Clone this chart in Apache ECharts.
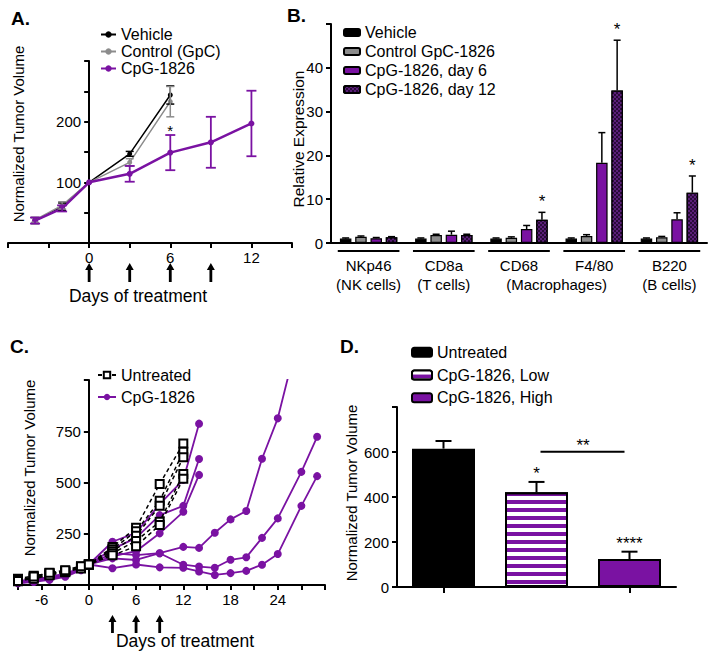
<!DOCTYPE html>
<html><head><meta charset="utf-8">
<script src="https://cdn.jsdelivr.net/npm/echarts@6/dist/echarts.min.js"></script>
<style>html,body{margin:0;padding:0;background:#fff}#c{width:714px;height:661px}</style>
</head><body><div id="c"></div>
<script>
// ---------------- DATA ----------------
// Panel A
const daysA = [-4, -2, 0, 3, 6, 9, 12];
const vehicleA = [37, 60, 100, 147, 244];
const vehicleErrA = [5, 6, 0, 4, 15];
const controlA = [38, 62, 100, 133, 233];
const controlErrA = [4, 6, 0, 6, 25];
const cpgA = [37, 57, 100, 114, 149, 166, 197];
const cpgErrA = [5, 5, 0, 13, 29, 42, 54];
const treatDaysA = [0, 3, 6, 9];
const sigDaysA = [6];
const xLabelsA = [0, 6, 12];
const yLabelsA = [100, 200];

// Panel B
const genesB = ['NKp46', 'CD8a', 'CD68', 'F4/80', 'B220'];
const cellTypesB = ['(NK cells)', '(T cells)', '', '', '(B cells)'];
const macroLabelB = '(Macrophages)';
const macroSpanB = [2, 3];
const vehicleB = [1.0, 1.0, 1.0, 1.0, 1.0];
const vehicleErrB = [0.15, 0.15, 0.15, 0.15, 0.15];
const controlB = [1.4, 1.8, 1.2, 1.6, 1.3];
const controlErrB = [0.2, 0.2, 0.2, 0.3, 0.2];
const day6B = [1.1, 1.9, 3.2, 18.3, 5.4];
const day6ErrB = [0.15, 0.8, 0.8, 6.9, 1.5];
const day12B = [1.3, 1.8, 5.3, 34.8, 11.5];
const day12ErrB = [0.15, 0.2, 1.7, 11.5, 3.8];
const sigDay12B = ['', '', '*', '*', '*'];
const yLabelsB = [0, 10, 20, 30, 40];

// Panel C
const daysUntreatedC = [-9, -7, -5, -3, -1, 0, 3, 6, 9, 12];
const untreated1C = [30, 45, 55, 70, 90, 100, 185, 279, 493, 690];
const untreated2C = [22, 38, 58, 65, 85, 100, 175, 262, 411, 650];
const untreated3C = [18, 35, 50, 62, 88, 100, 165, 240, 386, 623];
const untreated4C = [25, 30, 48, 66, 80, 100, 155, 215, 309, 542];
const untreated5C = [20, 42, 60, 72, 92, 100, 145, 189, 293, 518];
const daysCpgC = [-9, -7, -5, -3, -1, 0, 3, 6, 9, 12, 14, 16, 18, 20, 22, 24, 26, 27, 29];
const cpg1C = [10, 18, 30, 45, 78, 100, 155, 146, 155, 186, 181, 255, 320, 361, 616, 813, 1120, null, null];
const cpg2C = [15, 22, 35, 50, 82, 100, 130, 122, 155, 99, 90, 84, 123, 135, 230, 325, null, 552, 723];
const cpg3C = [8, 15, 25, 40, 72, 100, 82, 100, 86, 84, 66, 49, 58, 69, 99, 151, null, 386, 531];
const cpg4C = [20, 25, 40, 55, 85, 100, 211, 255, 394, 513, 787];
const cpg5C = [12, 20, 28, 48, 75, 100, 175, 230, 341, 386, 615];
const cpg6C = [18, 28, 38, 52, 80, 100, 140, 165, 252, 357, 537];
const treatDaysC = [3, 6, 9];
const xLabelsC = [-6, 0, 6, 12, 18, 24];
const yLabelsC = [250, 500, 750];

// Panel D
const groupsD = ['Untreated', 'CpG-1826, Low', 'CpG-1826, High'];
const valuesD = [615, 421, 124];
const errD = [34, 46, 33];
const sigD = ['', '*', '****'];
const bracketD = { from: 1, to: 2, value: 601, text: '**' };
const yLabelsD = [0, 200, 400, 600];

// ---------------- STYLE ----------------
const FF = '"Liberation Sans", Arial, Helvetica, sans-serif';
const PURPLE = '#7a12a2';
const DARKP = '#2a0a3a';
const GRAY = '#8c8c8c';
const lab = { fontFamily: FF, fontSize: 15, color: '#000' };
const aLine = { show: true, onZero: false, lineStyle: { color: '#000', width: 2 } };
const aTick = { show: true, length: 5, lineStyle: { color: '#000', width: 2 } };
const pick = list => v => (list.indexOf(Number(v)) >= 0 ? String(v) : '');
const strip = n => n.replace(/^[A-D]:/, '');
const GA = { left: 8, top: 61, width: 284, height: 182 };
const GB = { left: 331, top: 24, width: 376, height: 219 };
const GC = { left: 18, top: 380, width: 307, height: 205 };
const GD = { left: 397, top: 407, width: 279, height: 180 };
const XA = { min: -6, max: 15 };
const XC = { min: -9, max: 30 };
// shift of the y axis so it sits at day 0 of the x range
const zeroShift = (g, r) => -((0 - r.min) / (r.max - r.min)) * g.width;

function txt(text, font, extra) {
  return Object.assign({ text: text, font: font, fill: '#000', align: 'center', verticalAlign: 'middle' }, extra || {});
}

function errLineSeries(xi, days, vals, errs, color, lw, capHalf) {
  const data = days.slice(0, vals.length).map((d, i) => [d, vals[i], errs[i]]).filter(r => r[2] > 0);
  return {
    type: 'custom', xAxisIndex: xi, yAxisIndex: xi, z: 4, silent: true, data,
    renderItem(p, api) {
      const x = api.value(0), v = api.value(1), e = api.value(2);
      const t = api.coord([x, v + e]), b = api.coord([x, v - e]);
      const st = { stroke: color, lineWidth: lw };
      return { type: 'group', children: [
        { type: 'line', shape: { x1: t[0], y1: t[1], x2: b[0], y2: b[1] }, style: st },
        { type: 'line', shape: { x1: t[0] - capHalf, y1: t[1], x2: t[0] + capHalf, y2: t[1] }, style: st },
        { type: 'line', shape: { x1: b[0] - capHalf, y1: b[1], x2: b[0] + capHalf, y2: b[1] }, style: st }
      ] };
    }
  };
}

function barErrSeries(xi, vals, errs, slot, nSlots, barW, gapRatio, capHalf, lw, sig, sigFont, sigGap) {
  const data = vals.map((v, i) => [i, v, errs[i]]);
  return {
    type: 'custom', xAxisIndex: xi, yAxisIndex: xi, z: 4, silent: true, data,
    renderItem(p, api) {
      const i = api.value(0), v = api.value(1), e = api.value(2);
      const pitch = barW * (1 + gapRatio);
      const off = (slot - (nSlots - 1) / 2) * pitch;
      const b = api.coord([i, v]), t = api.coord([i, v + e]);
      const x = b[0] + off;
      const st = { stroke: '#000', lineWidth: lw };
      const ch = [
        { type: 'line', shape: { x1: x, y1: b[1], x2: x, y2: t[1] }, style: st },
        { type: 'line', shape: { x1: x - capHalf, y1: t[1], x2: x + capHalf, y2: t[1] }, style: st }
      ];
      if (sig && sig[i]) {
        ch.push({ type: 'text', x: x, y: t[1] - sigGap, style: txt(sig[i], sigFont, { verticalAlign: 'bottom' }) });
      }
      return { type: 'group', children: ch };
    }
  };
}

function arrowSeries(xi, days, dy0, dy1) {
  return {
    type: 'custom', xAxisIndex: xi, yAxisIndex: xi, silent: true, z: 5,
    data: days.map(d => [d, 0]),
    renderItem(p, api) {
      const c = api.coord([api.value(0), 0]);
      const x = c[0], y0 = c[1] + dy0, y1 = c[1] + dy1, hh = 7, hw = 4, sw = 1.4;
      return { type: 'polygon', shape: { points: [
        [x, y0], [x + hw, y0 + hh], [x + sw, y0 + hh], [x + sw, y1], [x - sw, y1], [x - sw, y0 + hh], [x - hw, y0 + hh]
      ] }, style: { fill: '#000' } };
    }
  };
}

// ---------------- SERIES ----------------
const series = [];
// Panel A
series.push({ type: 'line', name: 'A:Vehicle', xAxisIndex: 0, yAxisIndex: 0, z: 3,
  data: daysA.slice(0, vehicleA.length).map((d, i) => [d, vehicleA[i]]),
  symbol: 'circle', symbolSize: 5, lineStyle: { color: '#000', width: 1.5 }, itemStyle: { color: '#000' } });
series.push({ type: 'line', name: 'A:Control (GpC)', xAxisIndex: 0, yAxisIndex: 0, z: 3,
  data: daysA.slice(0, controlA.length).map((d, i) => [d, controlA[i]]),
  symbol: 'circle', symbolSize: 5, lineStyle: { color: GRAY, width: 1.5 }, itemStyle: { color: GRAY } });
series.push({ type: 'line', name: 'A:CpG-1826', xAxisIndex: 0, yAxisIndex: 0, z: 3,
  data: daysA.map((d, i) => [d, cpgA[i]]),
  symbol: 'circle', symbolSize: 6, lineStyle: { color: PURPLE, width: 2.5 }, itemStyle: { color: PURPLE } });
series.push(errLineSeries(0, daysA, vehicleA, vehicleErrA, '#000', 1.5, 4));
series.push(errLineSeries(0, daysA, controlA, controlErrA, GRAY, 1.5, 4));
series.push(errLineSeries(0, daysA, cpgA, cpgErrA, PURPLE, 1.8, 5));
series.push(arrowSeries(0, treatDaysA, 20, 39));
series.push({ type: 'custom', xAxisIndex: 0, yAxisIndex: 0, silent: true, z: 5,
  data: sigDaysA.map(d => { const i = daysA.indexOf(d); return [d, cpgA[i] + cpgErrA[i]]; }),
  renderItem(p, api) {
    const c = api.coord([api.value(0), api.value(1)]);
    return { type: 'text', x: c[0], y: c[1] + 3, style: txt('*', '15px ' + FF, { verticalAlign: 'bottom' }) };
  } });

// Panel B
const BW = 11.5, BG = 0.33;
const checker = { symbol: 'rect', symbolSize: 1, dashArrayX: [[2, 2], [0, 2, 2, 0]], dashArrayY: [2, 0], rotation: 0, color: '#5a1f78' };
const bStyles = [
  { name: 'B:Vehicle', data: vehicleB, err: vehicleErrB, color: '#000' },
  { name: 'B:Control GpC-1826', data: controlB, err: controlErrB, color: GRAY },
  { name: 'B:CpG-1826, day 6', data: day6B, err: day6ErrB, color: PURPLE },
  { name: 'B:CpG-1826, day 12', data: day12B, err: day12ErrB, color: DARKP, decal: checker }
];
bStyles.forEach((s, k) => {
  series.push({ type: 'bar', name: s.name, xAxisIndex: 1, yAxisIndex: 1, data: s.data, barWidth: BW, barGap: (BG * 100) + '%',
    itemStyle: Object.assign({ color: s.color, borderColor: '#000', borderWidth: 1.2 }, s.decal ? { decal: s.decal } : {}) });
  series.push(barErrSeries(1, s.data, s.err, k, 4, BW, BG, 3.5, 1.5, k === 3 ? sigDay12B : null, '17px ' + FF, 2));
});
series.push({ type: 'custom', xAxisIndex: 1, yAxisIndex: 1, silent: true, z: 5,
  data: genesB.map((g, i) => [i, 0]),
  renderItem(p, api) {
    const c = api.coord([api.value(0), 0]);
    const half = api.size([1, 0])[0] * 0.41;
    return { type: 'line', shape: { x1: c[0] - half, y1: c[1] + 8, x2: c[0] + half, y2: c[1] + 8 }, style: { stroke: '#000', lineWidth: 2 } };
  } });
series.push({ type: 'custom', xAxisIndex: 1, yAxisIndex: 1, silent: true, z: 5,
  data: [[macroSpanB[0], 0]],
  renderItem(p, api) {
    const a = api.coord([macroSpanB[0], 0]), b = api.coord([macroSpanB[1], 0]);
    return { type: 'text', x: (a[0] + b[0]) / 2, y: a[1] + 41, style: txt(macroLabelB, '15px ' + FF) };
  } });

// Panel C
[untreated1C, untreated2C, untreated3C, untreated4C, untreated5C].forEach(arr => {
  series.push({ type: 'line', name: 'C:Untreated', xAxisIndex: 2, yAxisIndex: 2, z: 3,
    data: daysUntreatedC.map((d, i) => [d, arr[i]]),
    symbol: 'emptyRect', symbolSize: 8,
    lineStyle: { color: '#000', width: 1.5, type: [4, 3] }, itemStyle: { color: '#000', borderWidth: 1 } });
});
[cpg1C, cpg2C, cpg3C, cpg4C, cpg5C, cpg6C].forEach(arr => {
  series.push({ type: 'line', name: 'C:CpG-1826', xAxisIndex: 2, yAxisIndex: 2, z: 2, connectNulls: true,
    data: arr.map((v, i) => [daysCpgC[i], v]).filter(r => r[1] !== null),
    symbol: 'circle', symbolSize: 8,
    lineStyle: { color: PURPLE, width: 1.8 }, itemStyle: { color: PURPLE } });
});
series.push(arrowSeries(2, treatDaysC, 30, 48));

// Panel D
const stripes = { symbol: 'rect', symbolSize: 1, dashArrayX: [1, 0], dashArrayY: [3.3, 3.4], rotation: 0, color: '#ffffff' };
const dColors = ['#000', PURPLE, PURPLE];
groupsD.forEach((g, k) => {
  series.push({ type: 'bar', name: 'D:' + g, xAxisIndex: 3, yAxisIndex: 3, barWidth: 63, barGap: '-100%',
    data: valuesD.map((v, i) => (i === k ? v : '-')),
    itemStyle: Object.assign({ color: dColors[k], borderColor: '#000', borderWidth: 2 }, k === 1 ? { decal: stripes } : {}) });
});
series.push(barErrSeries(3, valuesD, errD, 0, 1, 63, 0, 8, 2, sigD, '17px ' + FF, 0));
series.push({ type: 'custom', xAxisIndex: 3, yAxisIndex: 3, silent: true, z: 5,
  data: [[bracketD.from, bracketD.value]],
  renderItem(p, api) {
    const a = api.coord([bracketD.from, bracketD.value]), b = api.coord([bracketD.to, bracketD.value]);
    return { type: 'group', children: [
      { type: 'line', shape: { x1: a[0] + 4, y1: a[1], x2: b[0] - 5, y2: b[1] }, style: { stroke: '#000', lineWidth: 2 } },
      { type: 'text', x: (a[0] + b[0]) / 2, y: a[1] + 2, style: txt(bracketD.text, '17px ' + FF, { verticalAlign: 'bottom' }) }
    ] };
  } });

// ---------------- OPTION ----------------
const legendBase = { orient: 'vertical', selectedMode: false, itemGap: 0, formatter: strip, padding: 0 };
const gridOf = g => Object.assign({ outerBoundsMode: 'none', containLabel: false }, g);
const option = {
  animation: false,
  backgroundColor: '#fff',
  grid: [gridOf(GA), gridOf(GB), gridOf(GC), gridOf(GD)],
  xAxis: [
    { gridIndex: 0, type: 'value', min: XA.min, max: XA.max, interval: 3, axisLine: aLine, axisTick: aTick, splitLine: { show: false },
      axisLabel: Object.assign({ margin: 7, formatter: pick(xLabelsA) }, lab) },
    { gridIndex: 1, type: 'category', data: genesB, axisLine: aLine, axisTick: { show: false },
      axisLabel: Object.assign({ margin: 13, lineHeight: 19, interval: 0, formatter: (v, i) => v + '\n' + cellTypesB[i] }, lab) },
    { gridIndex: 2, type: 'value', min: XC.min, max: XC.max, interval: 3, axisLine: aLine, axisTick: aTick, splitLine: { show: false },
      axisLabel: Object.assign({ margin: 7, formatter: pick(xLabelsC) }, lab) },
    { gridIndex: 3, type: 'category', data: groupsD, axisLine: aLine, axisTick: { show: true, alignWithLabel: true, length: 6, lineStyle: { color: '#000', width: 2 } },
      axisLabel: { show: false } }
  ],
  yAxis: [
    { gridIndex: 0, type: 'value', min: 0, max: 300, interval: 50, offset: zeroShift(GA, XA), axisLine: aLine, axisTick: aTick, splitLine: { show: false },
      axisLabel: Object.assign({ margin: 8, formatter: pick(yLabelsA) }, lab) },
    { gridIndex: 1, type: 'value', min: 0, max: 50, interval: 10, axisLine: aLine, axisTick: aTick, splitLine: { show: false },
      axisLabel: Object.assign({ margin: 8, formatter: pick(yLabelsB) }, lab) },
    { gridIndex: 2, type: 'value', min: 0, max: 1000, interval: 250, offset: zeroShift(GC, XC), axisLine: aLine, axisTick: aTick, splitLine: { show: false },
      axisLabel: Object.assign({ margin: 8, formatter: pick(yLabelsC) }, lab) },
    { gridIndex: 3, type: 'value', min: 0, max: 800, interval: 200, axisLine: aLine, axisTick: aTick, splitLine: { show: false },
      axisLabel: Object.assign({ margin: 8, formatter: pick(yLabelsD) }, lab) }
  ],
  legend: [
    Object.assign({}, legendBase, { left: 100, top: 26, itemWidth: 15, itemHeight: 8, itemTextGap: 3,
      textStyle: { fontFamily: FF, fontSize: 16, color: '#000', lineHeight: 17 },
      data: ['A:Vehicle', 'A:Control (GpC)', 'A:CpG-1826'] }),
    Object.assign({}, legendBase, { left: 343, top: 23, itemWidth: 16, itemHeight: 7, itemTextGap: 4,
      textStyle: { fontFamily: FF, fontSize: 16, color: '#000', lineHeight: 19 },
      data: bStyles.map(s => s.name) }),
    Object.assign({}, legendBase, { left: 97, top: 364, itemWidth: 18, itemHeight: 8, itemTextGap: 3,
      textStyle: { fontFamily: FF, fontSize: 16, color: '#000', lineHeight: 22 },
      data: ['C:Untreated', 'C:CpG-1826'] }),
    Object.assign({}, legendBase, { left: 411, top: 341, itemWidth: 20, itemHeight: 9, itemTextGap: 3,
      textStyle: { fontFamily: FF, fontSize: 16, color: '#000', lineHeight: 22.7 },
      data: groupsD.map(g => 'D:' + g) })
  ],
  graphic: [
    { type: 'text', left: 11, top: 9, style: { text: 'A.', font: 'bold 19px ' + FF, fill: '#000' } },
    { type: 'text', left: 287, top: 6, style: { text: 'B.', font: 'bold 19px ' + FF, fill: '#000' } },
    { type: 'text', left: 10, top: 337, style: { text: 'C.', font: 'bold 19px ' + FF, fill: '#000' } },
    { type: 'text', left: 340, top: 337, style: { text: 'D.', font: 'bold 19px ' + FF, fill: '#000' } },
    { type: 'text', x: 18, y: 134, rotation: Math.PI / 2, style: txt('Normalized Tumor Volume', '15px ' + FF) },
    { type: 'text', x: 138, y: 296, style: txt('Days of treatment', '17.5px ' + FF) },
    { type: 'text', x: 298, y: 139, rotation: Math.PI / 2, style: txt('Relative Expression', '15.5px ' + FF) },
    { type: 'text', x: 29, y: 468, rotation: Math.PI / 2, style: txt('Normalized Tumor Volume', '15px ' + FF) },
    { type: 'text', x: 185, y: 641, style: txt('Days of treatment', '17.5px ' + FF) },
    { type: 'text', x: 351, y: 493, rotation: Math.PI / 2, style: txt('Normalized Tumor Volume', '15px ' + FF) }
  ],
  series
};
const chart = echarts.init(document.getElementById('c'), null, { renderer: 'svg', width: 714, height: 661 });
chart.setOption(option);
</script></body></html>
